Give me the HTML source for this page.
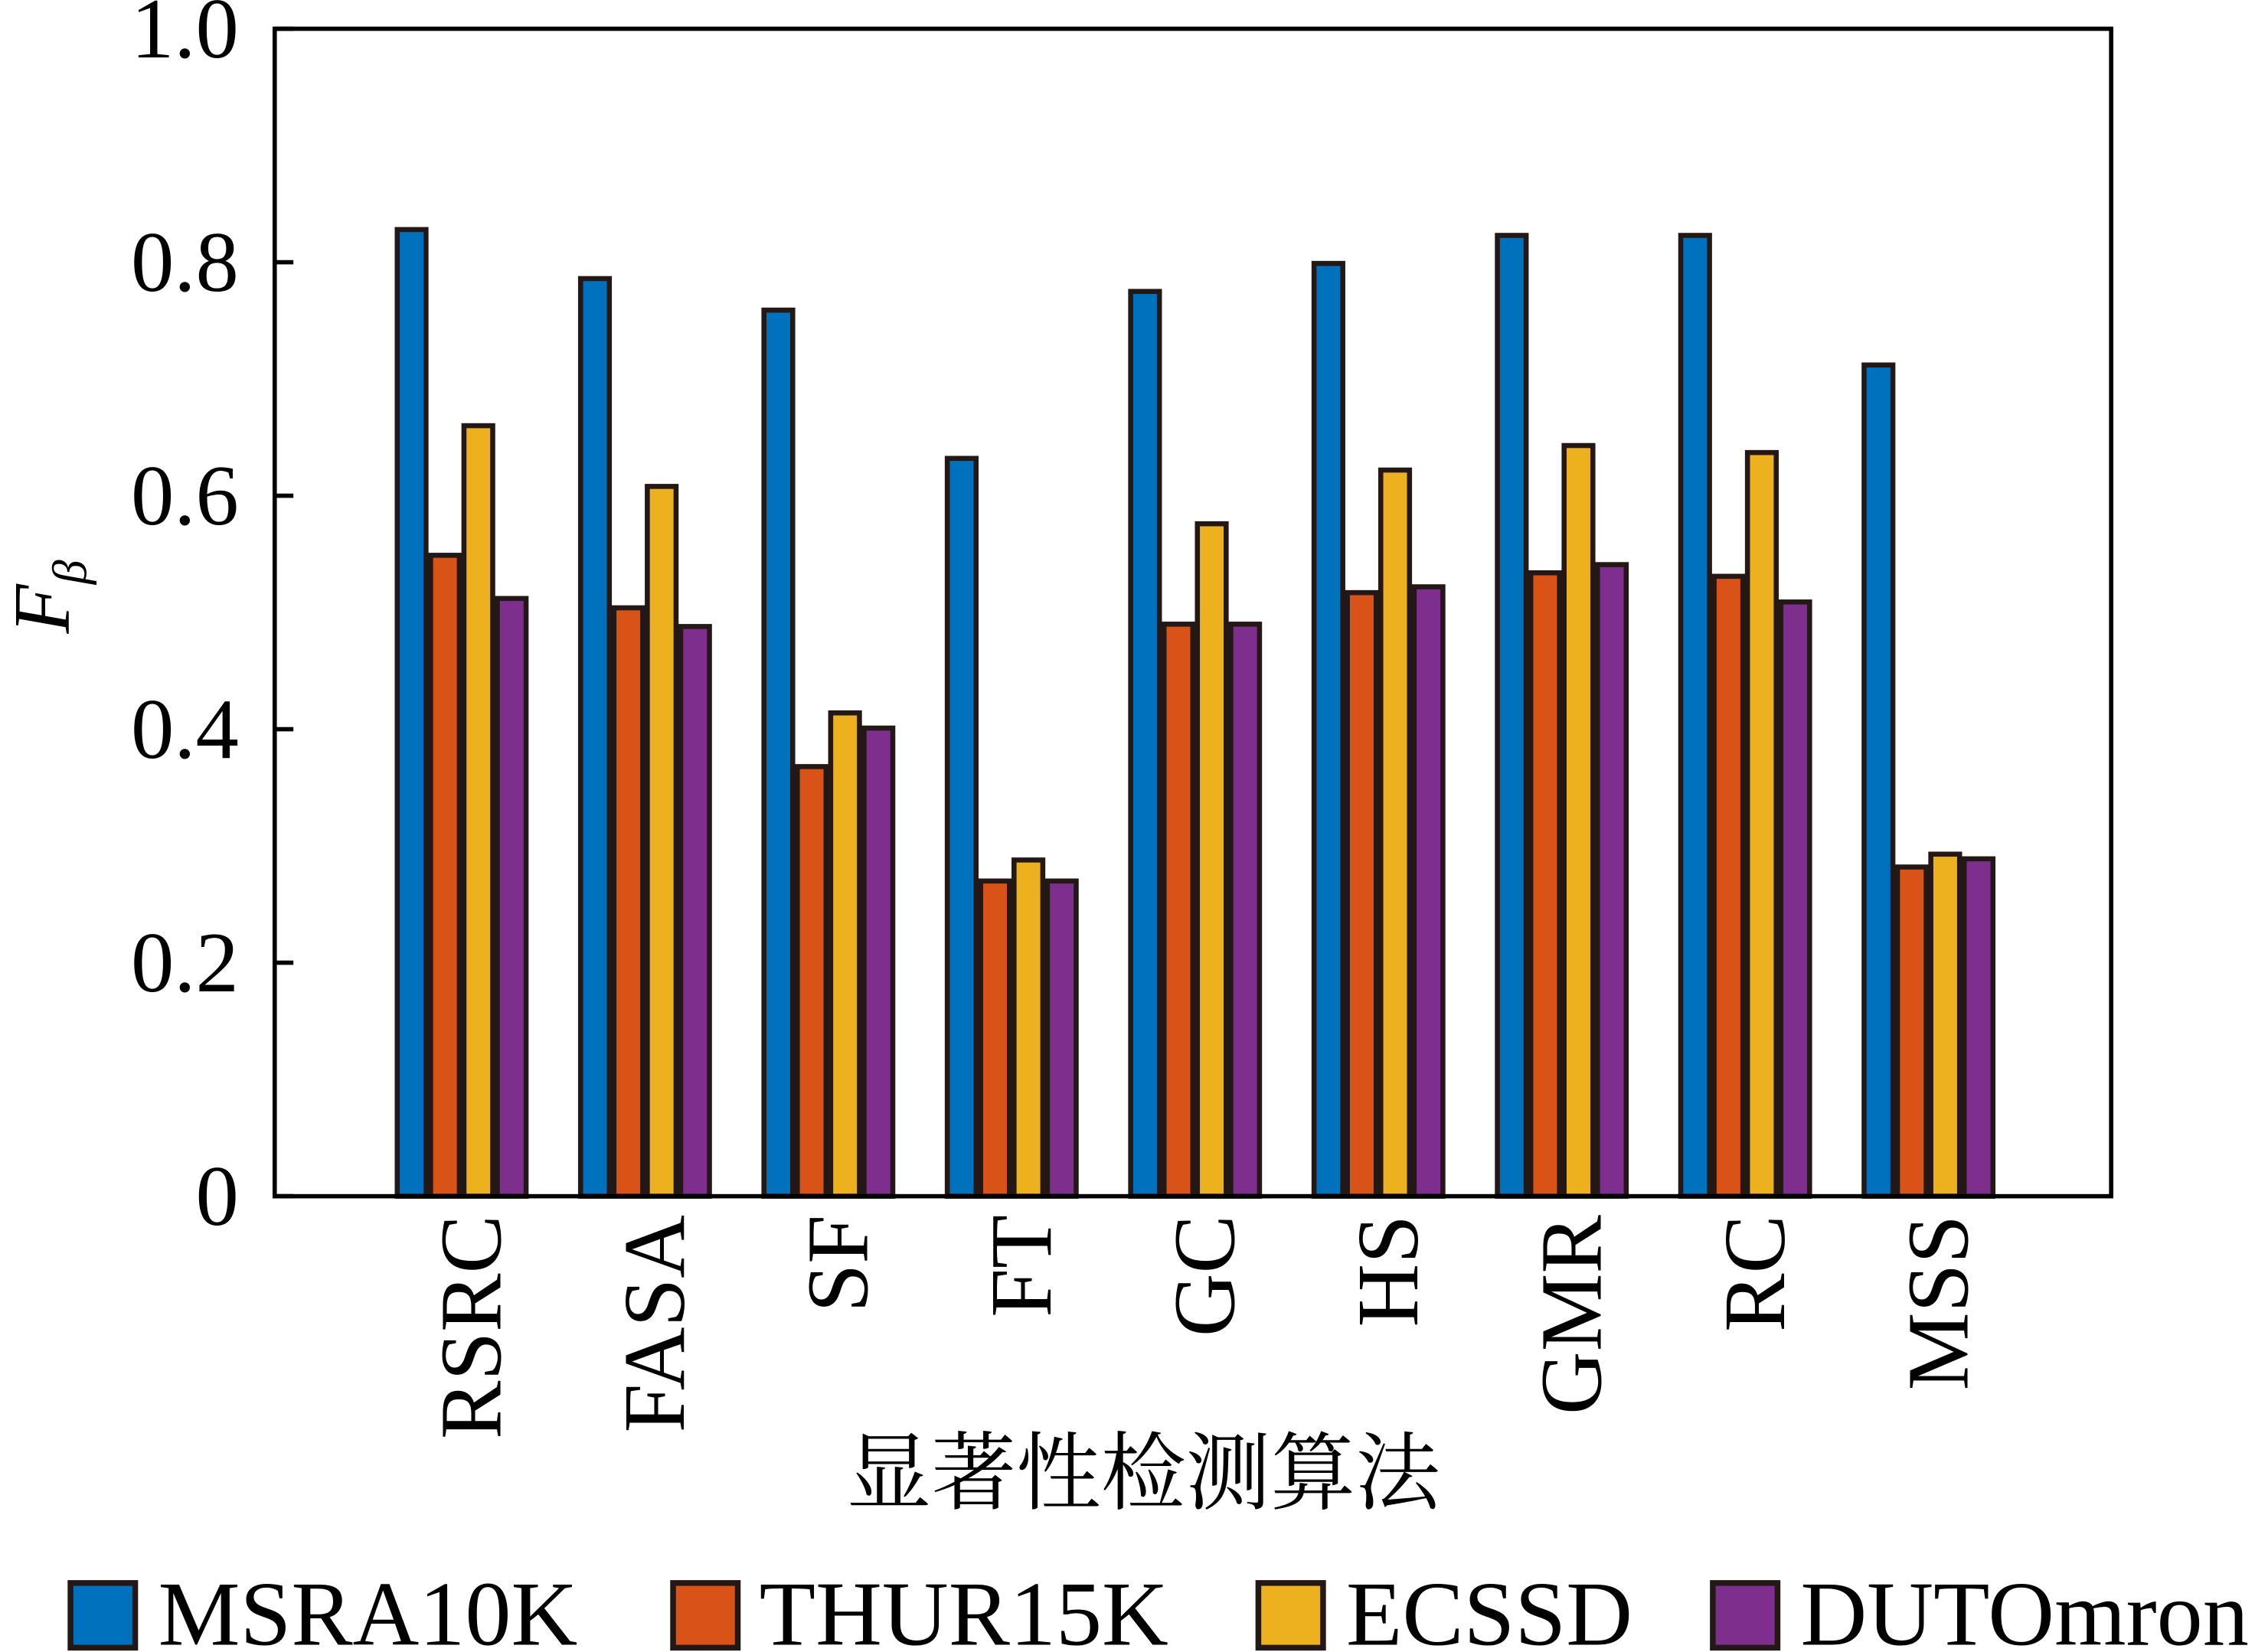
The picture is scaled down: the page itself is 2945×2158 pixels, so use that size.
<!DOCTYPE html>
<html><head><meta charset="utf-8"><style>html,body{margin:0;padding:0;background:#fff}svg{display:block}</style></head>
<body>
<svg id="chart" width="2945" height="2158" viewBox="0 0 1568 1149" xmlns="http://www.w3.org/2000/svg" font-family="'Liberation Serif','Noto Serif CJK SC',serif">
<g id="bars"></g>
<rect x="191" y="20" width="1277" height="812" fill="none" stroke="#000" stroke-width="3"/>
<g id="yaxis"></g>
<g id="xaxis"></g>
<text transform="translate(48,415) rotate(-90)" text-anchor="middle" font-size="56" font-style="italic">F<tspan font-size="34" dy="12">β</tspan></text>
<text x="795" y="1045" text-anchor="middle" font-size="59" font-family="'Noto Serif CJK SC','Noto Sans CJK SC',serif">显著性检测算法</text>
<g id="legend"></g>
</svg>
<script>
const categories = ["RSRC","FASA","SF","FT","GC","HS","GMR","RC","MSS"];
const seriesNames = ["MSRA10K","THUR15K","ECSSD","DUTOmron"];
const msra10k = [0.828,0.786,0.759,0.632,0.775,0.799,0.823,0.823,0.712];
const thur15k = [0.549,0.504,0.368,0.270,0.490,0.517,0.534,0.531,0.282];
const ecssd = [0.660,0.608,0.414,0.288,0.576,0.622,0.643,0.637,0.293];
const dutomron = [0.512,0.488,0.401,0.270,0.490,0.522,0.541,0.509,0.289];
const yTicks = [0,0.2,0.4,0.6,0.8,1.0];
const yTickLabels = ["0","0.2","0.4","0.6","0.8","1.0"];

const NS="http://www.w3.org/2000/svg";
const colors=["#0071bd","#d95319","#edb120","#7e2f8e"];
const series=[msra10k,thur15k,ecssd,dutomron];
const y0=832,y1=20;
function yScale(v){return y0-(y0-y1)*v;}
function xCenter(i){return 321+i*127.5;}
const bw=20,pitch=23.2;
function mk(tag,attrs,parent){const e=document.createElementNS(NS,tag);for(const k in attrs)e.setAttribute(k,attrs[k]);parent.appendChild(e);return e;}
const gb=document.getElementById('bars');
categories.forEach((c,i)=>{
  series.forEach((s,j)=>{
    const x=xCenter(i)+(j-1.5)*pitch-bw/2;
    const r=mk('rect',{x:x,y:yScale(s[i]),width:bw,height:y0-yScale(s[i]),fill:colors[j],stroke:"#231815","stroke-width":3.5},gb);
    
    
  });
});
const gy=document.getElementById('yaxis');
yTicks.forEach((v,k)=>{
  const l=mk('line',{x1:191,x2:204,y1:yScale(v),y2:yScale(v),stroke:"#000","stroke-width":3},gy);
  
  
  const t=mk('text',{x:166,y:yScale(v)+20,"text-anchor":"end","font-size":60},gy);
  t.textContent=yTickLabels[k];
  
  
});
const gx=document.getElementById('xaxis');
categories.forEach((c,i)=>{
  const t=mk('text',{transform:`translate(${xCenter(i)+27},845) rotate(-90)`,"text-anchor":"end","font-size":61},gx);
  t.textContent=c;
  
  
});
const gl=document.getElementById('legend');
const lx=[[49,110],[468,528],[875,936],[1191,1252]];
seriesNames.forEach((n,j)=>{
  const r=mk('rect',{x:lx[j][0],y:1101,width:45,height:45,fill:colors[j],stroke:"#231815","stroke-width":4},gl);
  
  
  const t=mk('text',{x:lx[j][1],y:1144,"font-size":64},gl);
  t.textContent=n;
  
  
});
</script>
</body></html>
